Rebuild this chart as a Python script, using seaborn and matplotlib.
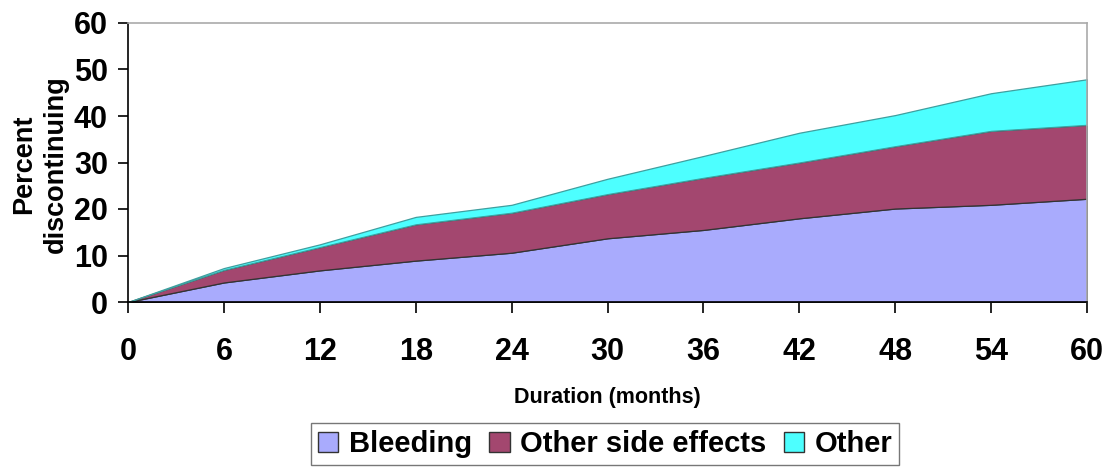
"""
Stacked area chart: cumulative percent discontinuing by reason over duration.
"""

import matplotlib
matplotlib.use("Agg")
import matplotlib.pyplot as plt
import seaborn as sns

# Data
months = [0, 6, 12, 18, 24, 30, 36, 42, 48, 54, 60]
bleeding = [0, 4.2, 6.8, 8.9, 10.6, 13.7, 15.5, 18.0, 20.1, 20.9, 22.2]
other_side_effects = [0, 2.7, 5.0, 7.8, 8.6, 9.5, 11.2, 12.0, 13.4, 15.9, 15.9]
other = [0, 0.4, 0.6, 1.6, 1.7, 3.3, 4.7, 6.4, 6.7, 8.1, 9.8]

series_names = ["Bleeding", "Other side effects", "Other"]
colors = ["#A9ABFD", "#A3476F", "#4DFFFF"]
edge_colors = ["#333333", "#333333", "#3f9f9f"]

y_ticks = [0, 10, 20, 30, 40, 50, 60]

sns.set_theme(style="white")
plt.rcParams['font.family'] = ['Liberation Sans', 'DejaVu Sans']
plt.rcParams['font.weight'] = 'bold'
plt.rcParams['text.color'] = 'black'
plt.rcParams['axes.labelcolor'] = 'black'
plt.rcParams['xtick.color'] = 'black'
plt.rcParams['ytick.color'] = 'black'

fig = plt.figure(figsize=(11.11, 4.68), dpi=100)
ax = fig.add_axes([128 / 1111, 1 - 302 / 468, 959 / 1111, 279 / 468])

polys = ax.stackplot(months, bleeding, other_side_effects, other,
                     colors=colors, labels=series_names)
for p, ec in zip(polys, edge_colors):
    p.set_edgecolor(ec)
    p.set_linewidth(0.9)

ax.set_xlim(0, 60)
ax.set_ylim(0, 60)
ax.set_xticks(months)
ax.set_yticks(y_ticks)
ax.tick_params(axis='x', direction='out', length=8, width=1.2, colors='black',
               pad=17, labelsize=22)
ax.tick_params(axis='y', direction='out', length=7.5, width=1.2, colors='black',
               pad=7, labelsize=22)
ax.tick_params(bottom=True, left=True)
for lbl in ax.get_xticklabels() + ax.get_yticklabels():
    lbl.set_fontweight('bold')

for side in ['left', 'bottom']:
    ax.spines[side].set_color('black')
    ax.spines[side].set_linewidth(1.2)
for side in ['top', 'right']:
    ax.spines[side].set_color('#aaaaaa')
    ax.spines[side].set_linewidth(1.2)

fig.text(40 / 1111, 1 - 164 / 468, "Percent\ndiscontinuing", rotation=90,
         ha='center', va='center', fontsize=19.5, fontweight='bold',
         linespacing=1.25, multialignment='center', color='black')
fig.text(607 / 1111, 1 - 397 / 468, "Duration (months)", ha='center',
         va='center', fontsize=15.5, fontweight='bold', color='black')

leg = fig.legend(loc='center', bbox_to_anchor=(605 / 1111, 1 - 444 / 468),
                 ncol=3, fontsize=21, frameon=True, fancybox=False,
                 handlelength=0.7, handleheight=0.7, handletextpad=0.35,
                 columnspacing=0.6, borderpad=0.25, borderaxespad=0)
leg.get_frame().set_edgecolor('#555555')
leg.get_frame().set_linewidth(1.0)
for h in leg.legend_handles:
    h.set_edgecolor('#333333')
    h.set_linewidth(1.0)
for t in leg.get_texts():
    t.set_fontweight('bold')
    t.set_color('black')

plt.savefig("out.png", dpi=100)
plt.close()
